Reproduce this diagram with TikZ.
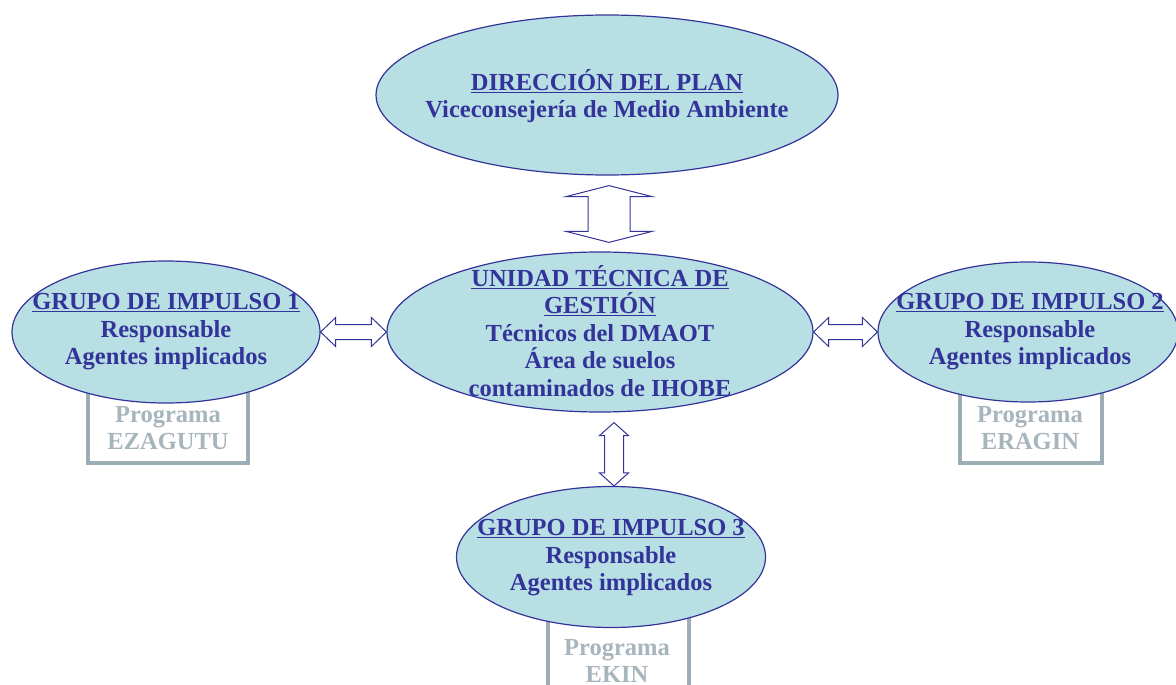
\documentclass[tikz,border=0pt]{standalone}
\usepackage{fontspec}
\setmainfont{Liberation Serif}
\usetikzlibrary{shapes.geometric,calc}
\definecolor{ebl}{HTML}{333399}
\definecolor{efill}{HTML}{B8E0E4}
\definecolor{pgrey}{HTML}{9DADB6}
\newcommand{\vdarrow}[5]{%
 \draw[darrow] (#1) -- ($(#1)+(#4,#5)$) -- ($(#1)+(#3,#5)$) -- ($(#1|-#2)+(#3,-#5)$) -- ($(#1|-#2)+(#4,-#5)$) -- (#1|-#2) -- ($(#1|-#2)+(-#4,-#5)$) -- ($(#1|-#2)+(-#3,-#5)$) -- ($(#1)+(-#3,#5)$) -- ($(#1)+(-#4,#5)$) -- cycle;}
\newcommand{\hdarrow}[5]{%
 \draw[darrow] (#1) -- ($(#1)+(#5,-#4)$) -- ($(#1)+(#5,-#3)$) -- ($(#1-|#2)+(-#5,-#3)$) -- ($(#1-|#2)+(-#5,-#4)$) -- (#1-|#2) -- ($(#1-|#2)+(-#5,#4)$) -- ($(#1-|#2)+(-#5,#3)$) -- ($(#1)+(#5,#3)$) -- ($(#1)+(#5,#4)$) -- cycle;}
\begin{document}
\begin{tikzpicture}[x=1pt,y=-1pt,
 oval/.style={ellipse,draw=ebl,fill=efill,line width=1.2pt,inner sep=0pt},
 otext/.style={text=ebl,font=\bfseries\fontsize{24.5}{27.5}\selectfont,align=center,inner sep=0pt},
 progbox/.style={rectangle,draw=pgrey,line width=4pt,fill=white,inner sep=0pt},
 ptext/.style={text=pgrey!90,font=\bfseries\fontsize{24.5}{27.5}\selectfont,align=center,inner sep=0pt},
 darrow/.style={draw=ebl,fill=white,line width=1pt,line join=miter}]
\useasboundingbox (0,0) rectangle (1176,685);
% programme boxes (behind the ellipses)
\node[progbox,minimum width=160,minimum height=84] (pb1) at (168,421) {};
\node[progbox,minimum width=142,minimum height=84] (pb2) at (1031,421) {};
\node[progbox,minimum width=141,minimum height=100] (pb3) at (618.5,650) {};
\node[ptext] (pt1) at (168,428) {Programa\\EZAGUTU};
\node[ptext] (pt2) at (1030,428) {Programa\\ERAGIN};
\node[ptext] (pt3) at (617,661) {Programa\\EKIN};
% ellipses
\node[oval,minimum width=462,minimum height=160] (top) at (607,95) {};
\node[oval,minimum width=426,minimum height=160] (mid) at (600,332) {};
\node[oval,minimum width=308,minimum height=142] (left) at (166,332) {};
\node[oval,minimum width=300,minimum height=140] (right) at (1028,332) {};
\node[oval,minimum width=309,minimum height=141] (bot) at (611,557) {};
% texts
\node[otext] (topt) at (607,96) {\underline{DIRECCIÓN DEL PLAN}\\Viceconsejería de Medio Ambiente};
\node[otext] (midt) at (600,331) {\underline{UNIDAD TÉCNICA DE}\\\underline{GESTIÓN}\\Técnicos del DMAOT\\Área de suelos\\contaminados de IHOBE};
\node[otext] (leftt) at (166,332) {\underline{GRUPO DE IMPULSO 1}\\Responsable\\Agentes implicados};
\node[otext] (rightt) at (1030,332) {\underline{GRUPO DE IMPULSO 2}\\Responsable\\Agentes implicados};
\node[otext] (bott) at (611,558) {\underline{GRUPO DE IMPULSO 3}\\Responsable\\Agentes implicados};
% connectors
\coordinate (a1) at ($(top.south)+(2,10)$);
\coordinate (a2) at ($(mid.north)+(0,-9)$);
\vdarrow{a1}{a2}{21}{43}{11}
\coordinate (b1) at ($(mid.south)+(14,10)$);
\coordinate (b2) at (bot.north);
\vdarrow{b1}{b2}{9.5}{14.5}{13}
\hdarrow{left.east}{mid.west}{7.5}{14.5}{15}
\hdarrow{mid.east}{right.west}{7.5}{14.5}{15}
\end{tikzpicture}
\end{document}
